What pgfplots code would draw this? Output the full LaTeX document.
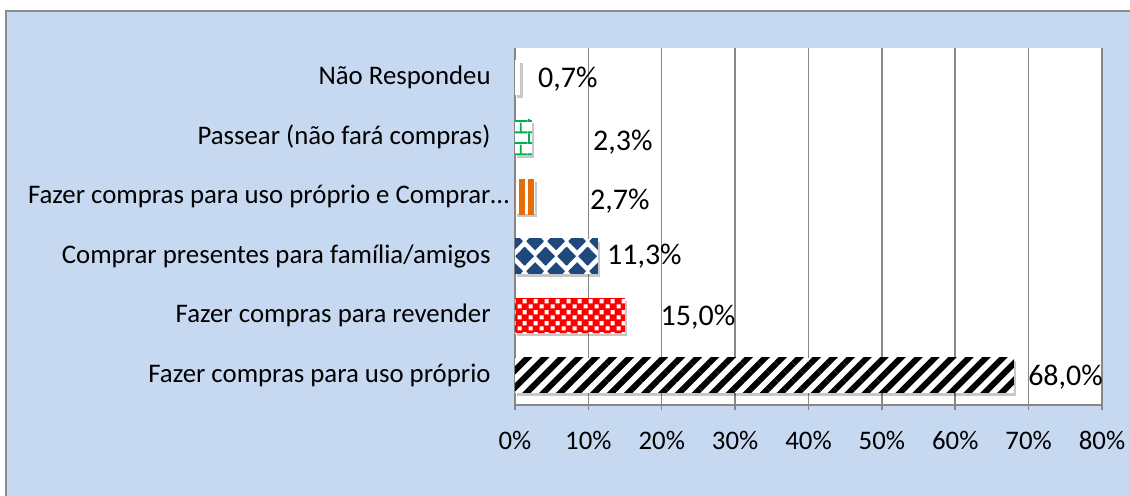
\documentclass[border=0pt]{standalone}
\usepackage{pgfplots}
\pgfplotsset{compat=1.18}
\usepackage{fontspec}
\setmainfont{Carlito}
\usetikzlibrary{patterns,patterns.meta,shadows}
\definecolor{bgblue}{HTML}{C6D9F1}
\definecolor{bordergray}{HTML}{8C8C8C}
\definecolor{gridgray}{HTML}{878787}
\definecolor{xlgreen}{HTML}{00B050}
\definecolor{xlorange}{HTML}{E46C0A}
\definecolor{xlnavy}{HTML}{1F497D}
\definecolor{xlblue}{HTML}{4F81BD}
\tikzdeclarepattern{
  name=diamonds,
  type=uncolored,
  bounding box={(0,0) and (10.5pt,15pt)},
  tile size={(10.5pt,15pt)},
  code={
    \fill (5.25pt,2.9pt) -- (9.85pt,7.5pt) -- (5.25pt,12.1pt) -- (0.65pt,7.5pt) -- cycle;
    \fill (0pt,-4.6pt) -- (4.6pt,0pt) -- (0pt,4.6pt) -- (-4.6pt,0pt) -- cycle;
    \fill (10.5pt,-4.6pt) -- (15.1pt,0pt) -- (10.5pt,4.6pt) -- (5.9pt,0pt) -- cycle;
    \fill (0pt,10.4pt) -- (4.6pt,15pt) -- (0pt,19.6pt) -- (-4.6pt,15pt) -- cycle;
    \fill (10.5pt,10.4pt) -- (15.1pt,15pt) -- (10.5pt,19.6pt) -- (5.9pt,15pt) -- cycle;
  }
}
\tikzdeclarepattern{
  name=wsquares,
  type=uncolored,
  bounding box={(0,0) and (5.5pt,5.5pt)},
  tile size={(5.5pt,5.5pt)},
  code={
    \fill (0.3pt,0.3pt) rectangle (2.45pt,2.45pt);
    \fill (3.05pt,3.05pt) rectangle (5.2pt,5.2pt);
  }
}
\tikzdeclarepattern{
  name=gbricks,
  type=uncolored,
  bounding box={(0,0) and (8pt,11pt)},
  tile size={(8pt,11pt)},
  code={
    \fill (0pt,0pt) rectangle (8pt,1pt);
    \fill (0pt,5.5pt) rectangle (8pt,6.5pt);
    \fill (0pt,0pt) rectangle (1pt,5.5pt);
    \fill (4pt,5.5pt) rectangle (5pt,11pt);
  }
}
\begin{document}
\begin{tikzpicture}
\useasboundingbox (0,0) rectangle (565pt,-247.5pt);
\fill[bgblue] (2.75pt,-5.25pt) rectangle (566pt,-248pt);
\draw[bordergray, line width=1pt] (2.75pt,-248pt) -- (2.75pt,-5.25pt) -- (566pt,-5.25pt);
\begin{axis}[
  at={(257.5pt,-202.5pt)}, anchor=south west,
  scale only axis, width=293.5pt, height=178.5pt,
  xmin=0, xmax=80, ymin=-0.5, ymax=5.5,
  axis background/.style={fill=white},
  axis x line*=bottom, axis y line*=left,
  axis line style={gridgray, line width=0.75pt},
  xmajorgrids, grid style={gridgray, line width=0.75pt},
  xtick={0,10,...,80},
  xticklabels={0\%,10\%,20\%,30\%,40\%,50\%,60\%,70\%,80\%},
  ytick={0,1,2,3,4,5},
  yticklabels={Fazer compras para uso próprio, Fazer compras para revender, Comprar presentes para família/amigos, Fazer compras para uso próprio e Comprar\rlap{…}, Passear (não fará compras), Não Respondeu},
  tick align=outside, major tick length=2.5pt,
  xtick style={gridgray, line width=0.75pt},
  ytick style={draw=none},
  tick label style={font=\fontsize{13.4}{16}\selectfont, text=black},
  yticklabel style={inner sep=0pt, anchor=east, xshift=-9.5pt},
  xticklabel style={inner sep=0pt, anchor=north, yshift=-10.5pt},
  barstyle/.style={xbar, bar shift=0pt, bar width=17.5pt, draw=none,
    drop shadow={shadow xshift=1.2pt, shadow yshift=-1.5pt, fill=black, opacity=0.22}},
]
\addplot[barstyle, fill=white, postaction={pattern={Lines[angle=45,distance=6pt,line width=3pt]}, pattern color=black}] coordinates {(68,0)};
\addplot[barstyle, fill=red, postaction={pattern=wsquares, pattern color=white}] coordinates {(15,1)};
\addplot[barstyle, fill=white, postaction={pattern=diamonds, pattern color=xlnavy}] coordinates {(11.3,2)};
\addplot[barstyle, fill=white, postaction={pattern={Lines[angle=90,distance=4.5pt,line width=2.7pt]}, pattern color=xlorange}] coordinates {(2.7,3)};
\addplot[barstyle, fill=white, postaction={pattern=gbricks, pattern color=xlgreen}] coordinates {(2.3,4)};
\addplot[barstyle, fill=white, postaction={pattern={Dots[radius=0.5pt,distance=8pt]}, pattern color=xlblue}] coordinates {(0.7,5)};
\addplot[draw=none, mark=none, nodes near coords, point meta=explicit symbolic,
  nodes near coords align=horizontal,
  every node near coord/.append style={anchor=west, inner sep=0pt, font=\fontsize{15}{18}\selectfont, text=black}]
  coordinates {(3.1,4.97)[0,7\%] (10.6,3.91)[2,3\%] (10.2,2.92)[2,7\%] (12.5,2)[11,3\%] (19.8,0.97)[15,0\%] (69.9,-0.04)[68,0\%]};
\end{axis}
\end{tikzpicture}
\end{document}
